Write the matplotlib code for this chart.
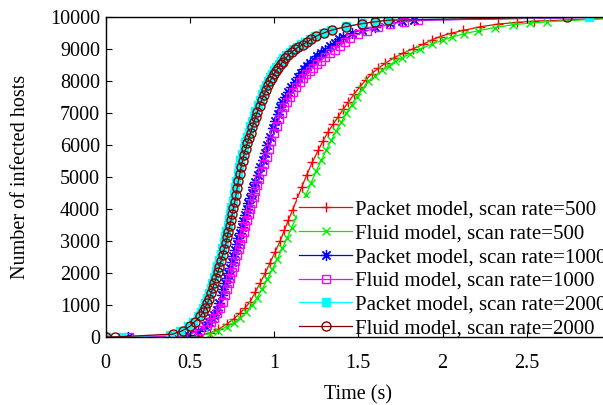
import matplotlib
matplotlib.use('Agg')
import matplotlib.pyplot as plt

plt.rcParams['font.family'] = ['Liberation Serif', 'DejaVu Serif']

# ---- data (time in s, infected hosts) ----
t_pkt500 = [0.00, 0.55, 0.62, 0.67, 0.719, 0.76, 0.798, 0.83, 0.858, 0.888, 0.917, 0.947,
            0.976, 1.006, 1.036, 1.061, 1.085, 1.111, 1.138, 1.164, 1.194, 1.228, 1.263,
            1.292, 1.322, 1.352, 1.382, 1.411, 1.441, 1.475, 1.51, 1.545, 1.58, 1.62,
            1.659, 1.71, 1.767, 1.826, 1.886, 1.935, 1.985, 2.05, 2.123, 2.22, 2.33,
            2.44, 2.54, 3.0]
y_pkt500 = [0, 30, 120, 240, 400, 560, 740, 920, 1100, 1400, 1680, 1990,
            2320, 2650, 3000, 3330, 3650, 3980, 4330, 4680, 5060, 5470, 5840,
            6140, 6420, 6660, 6890, 7120, 7340, 7590, 7820, 8030, 8230, 8400,
            8550, 8720, 8870, 9010, 9150, 9280, 9390, 9490, 9580, 9690, 9780,
            9830, 9870, 9960]

t_fld500 = [0.00, 0.52, 0.62, 0.67, 0.719, 0.76, 0.798, 0.835, 0.87, 0.90, 0.93, 0.96,
            0.99, 1.02, 1.05, 1.078, 1.105, 1.132, 1.16, 1.19, 1.22, 1.25, 1.28, 1.31,
            1.34, 1.37, 1.40, 1.43, 1.46, 1.49, 1.525, 1.56, 1.60, 1.64, 1.68, 1.72,
            1.76, 1.807, 1.866, 1.936, 2.00, 2.055, 2.13, 2.21, 2.31, 2.42, 2.52,
            2.62, 3.0]
y_fld500 = [0, 10, 100, 200, 320, 450, 590, 780, 1000, 1230, 1500, 1800,
            2110, 2440, 2780, 3100, 3420, 3740, 4080, 4450, 4820, 5180, 5520, 5840,
            6150, 6440, 6720, 6990, 7250, 7500, 7760, 7990, 8150, 8330, 8480, 8610,
            8730, 8850, 8990, 9150, 9280, 9370, 9480, 9570, 9670, 9760, 9810,
            9850, 9960]

t_pkt1000 = [0.0, 0.136, 0.49, 0.55, 0.59, 0.615, 0.63, 0.645, 0.66, 0.675, 0.69, 0.70,
             0.709, 0.719, 0.729, 0.739, 0.749, 0.759, 0.769, 0.779, 0.788, 0.798,
             0.808, 0.818, 0.828, 0.838, 0.848, 0.857, 0.867, 0.877, 0.887, 0.902,
             0.917, 0.932, 0.947, 0.961, 0.976, 0.991, 1.006, 1.021, 1.036, 1.050,
             1.065, 1.082, 1.100, 1.122, 1.144, 1.162, 1.18, 1.197, 1.214, 1.236,
             1.258, 1.280, 1.303, 1.330, 1.36, 1.385, 1.411, 1.465, 1.52, 1.60,
             1.69, 1.76, 1.83, 3.0]
y_pkt1000 = [0, 0, 60, 200, 350, 470, 580, 700, 850, 1050, 1310, 1500,
             1680, 1840, 1990, 2170, 2350, 2540, 2720, 2900, 3080, 3260,
             3450, 3630, 3810, 4000, 4180, 4340, 4500, 4680, 4850, 5070,
             5300, 5530, 5760, 6010, 6260, 6520, 6760, 6980, 7180, 7350,
             7500, 7650, 7800, 7970, 8130, 8250, 8360, 8460, 8550, 8660,
             8770, 8870, 8970, 9080, 9200, 9300, 9390, 9500, 9600, 9700,
             9800, 9860, 9900, 10000]

t_fld1000 = [0.0, 0.141, 0.44, 0.505, 0.56, 0.60, 0.625, 0.645, 0.662, 0.680, 0.695,
             0.709, 0.720, 0.730, 0.740, 0.750, 0.760, 0.770, 0.780, 0.790, 0.800,
             0.810, 0.820, 0.830, 0.840, 0.850, 0.860, 0.870, 0.880, 0.890, 0.900,
             0.912, 0.926, 0.941, 0.956, 0.970, 0.985, 1.000, 1.015, 1.030, 1.045,
             1.060, 1.075, 1.092, 1.110, 1.130, 1.152, 1.172, 1.192, 1.212, 1.232,
             1.255, 1.280, 1.305, 1.330, 1.360, 1.39, 1.42, 1.45, 1.50, 1.55, 1.62,
             1.69, 1.77, 1.856, 3.0]
y_fld1000 = [0, 0, 20, 110, 220, 360, 480, 600, 740, 900, 1100,
             1310, 1500, 1680, 1850, 2020, 2200, 2380, 2560, 2740, 2920,
             3100, 3290, 3470, 3650, 3830, 4010, 4200, 4380, 4560, 4740,
             4950, 5180, 5410, 5640, 5880, 6120, 6360, 6590, 6800, 7000,
             7180, 7340, 7500, 7650, 7800, 7960, 8090, 8210, 8320, 8420,
             8530, 8640, 8750, 8860, 8980, 9100, 9220, 9330, 9460, 9570, 9680,
             9780, 9850, 9900, 10000]

t_pkt2000 = [0.0, 0.10, 0.38, 0.44, 0.49, 0.52, 0.55, 0.566, 0.578, 0.592, 0.604,
             0.614, 0.624, 0.634, 0.644, 0.654, 0.664, 0.674, 0.683, 0.693, 0.703,
             0.710, 0.717, 0.725, 0.733, 0.740, 0.747, 0.755, 0.762, 0.769, 0.776,
             0.784, 0.792, 0.801, 0.810, 0.820, 0.830, 0.840, 0.850, 0.859, 0.869,
             0.879, 0.889, 0.902, 0.915, 0.928, 0.941, 0.953, 0.964, 0.976, 0.988,
             1.001, 1.014, 1.028, 1.040, 1.056, 1.073, 1.093, 1.113, 1.134, 1.160,
             1.185, 1.215, 1.244, 1.290, 1.338, 1.43, 1.52, 1.60, 1.678, 2.87, 3.0]
y_pkt2000 = [0, 0, 60, 180, 330, 480, 650, 780, 900, 1060, 1210,
             1370, 1530, 1700, 1870, 2050, 2230, 2410, 2590, 2780, 2960,
             3140, 3320, 3500, 3690, 3870, 4050, 4260, 4470, 4680, 4890,
             5110, 5320, 5520, 5720, 5900, 6080, 6240, 6400, 6580, 6750,
             6910, 7060, 7240, 7420, 7580, 7740, 7880, 8000, 8110, 8230,
             8330, 8430, 8530, 8610, 8720, 8820, 8910, 9000, 9070, 9150,
             9220, 9320, 9410, 9510, 9600, 9710, 9800, 9860, 9910, 10000, 10000]

t_fld2000 = [0.0, 0.057, 0.40, 0.458, 0.50, 0.53, 0.561, 0.578, 0.590, 0.604, 0.616,
             0.626, 0.636, 0.646, 0.656, 0.666, 0.676, 0.686, 0.695, 0.705, 0.715,
             0.722, 0.729, 0.737, 0.745, 0.752, 0.759, 0.767, 0.774, 0.781, 0.788,
             0.796, 0.804, 0.813, 0.822, 0.832, 0.842, 0.852, 0.862, 0.871, 0.881,
             0.891, 0.901, 0.914, 0.927, 0.940, 0.953, 0.965, 0.976, 0.988, 1.000,
             1.013, 1.026, 1.040, 1.052, 1.068, 1.085, 1.105, 1.125, 1.144, 1.170,
             1.194, 1.222, 1.249, 1.295, 1.342, 1.43, 1.52, 1.60, 1.678, 2.74, 3.0]
y_fld2000 = [0, 0, 90, 200, 330, 480, 640, 770, 900, 1050, 1200,
             1360, 1520, 1680, 1840, 2020, 2200, 2380, 2560, 2750, 2930,
             3110, 3290, 3470, 3660, 3840, 4020, 4230, 4440, 4650, 4860,
             5080, 5300, 5500, 5700, 5880, 6060, 6220, 6380, 6560, 6730,
             6890, 7040, 7220, 7400, 7560, 7720, 7860, 7990, 8100, 8220,
             8320, 8420, 8520, 8600, 8710, 8810, 8900, 8990, 9060, 9140,
             9210, 9310, 9400, 9500, 9590, 9700, 9790, 9850, 9900, 10000, 10000]

labels = ['Packet model, scan rate=500', 'Fluid model, scan rate=500',
          'Packet model, scan rate=1000', 'Fluid model, scan rate=1000',
          'Packet model, scan rate=2000', 'Fluid model, scan rate=2000']
x_ticks = [0, 0.5, 1, 1.5, 2, 2.5, 3]
x_ticklabels = ['0', '0.5', '1', '1.5', '2', '2.5', '3']
y_ticks = [0, 1000, 2000, 3000, 4000, 5000, 6000, 7000, 8000, 9000, 10000]

fig = plt.figure(figsize=(6.03, 4.05), dpi=100)
ax = fig.add_axes([0.175, 0.168, 0.8383, 0.790])

lw = 0.9
asterisk = (8, 2, 0)   # line-drawn asterisk like the MATLAB '*'
ax.plot(t_pkt500, y_pkt500, color='#ff0000', marker='+', ms=7, mew=1.0, lw=lw, label=labels[0])
ax.plot(t_fld500, y_fld500, color='#00ee00', marker='x', ms=6, mew=1.0, lw=lw, label=labels[1])
ax.plot(t_pkt1000, y_pkt1000, color='#0000ff', marker=asterisk, ms=8, mew=0.9, lw=lw,
        label=labels[2])
ax.plot(t_fld1000, y_fld1000, color='#ff00ff', marker='s', ms=6, mew=1.0, lw=lw,
        mfc='none', label=labels[3])
ax.plot(t_pkt2000, y_pkt2000, color='#00ffff', marker='s', ms=6, mew=1.0, lw=lw,
        mfc='#00ffff', label=labels[4])
ax.plot(t_fld2000, y_fld2000, color='#8b0000', marker='o', ms=6.5, mew=1.0, lw=lw,
        mfc='none', label=labels[5])

ax.set_xlim(0, 3)
ax.set_ylim(0, 10000)
ax.set_xticks(x_ticks)
ax.set_xticklabels(x_ticklabels)
ax.set_yticks(y_ticks)
ax.tick_params(direction='in', top=True, right=True, length=4, width=0.8, labelsize=14.5)
ax.tick_params(axis='x', pad=12)
ax.tick_params(axis='y', pad=4)
for s in ax.spines.values():
    s.set_linewidth(1.0)
    s.set_zorder(4)
ax.xaxis.set_zorder(4)
ax.yaxis.set_zorder(4)

ax.set_xlabel('Time (s)', fontsize=14.5, labelpad=9)
ax.set_ylabel('Number of infected hosts', fontsize=14.5, labelpad=14)

leg = ax.legend(loc='upper left', bbox_to_anchor=(297 / 603, 1 - 198 / 405),
                bbox_transform=fig.transFigure, fontsize=15, numpoints=1,
                handlelength=2.55, handletextpad=0.15, labelspacing=0.2,
                borderpad=0.1, borderaxespad=0.0, frameon=True, fancybox=False)
leg.get_frame().set_facecolor('white')
leg.get_frame().set_edgecolor('none')
leg.get_frame().set_alpha(1.0)
leg.set_zorder(3)  # above the curves, below the spines

fig.savefig('out.png', dpi=100)
